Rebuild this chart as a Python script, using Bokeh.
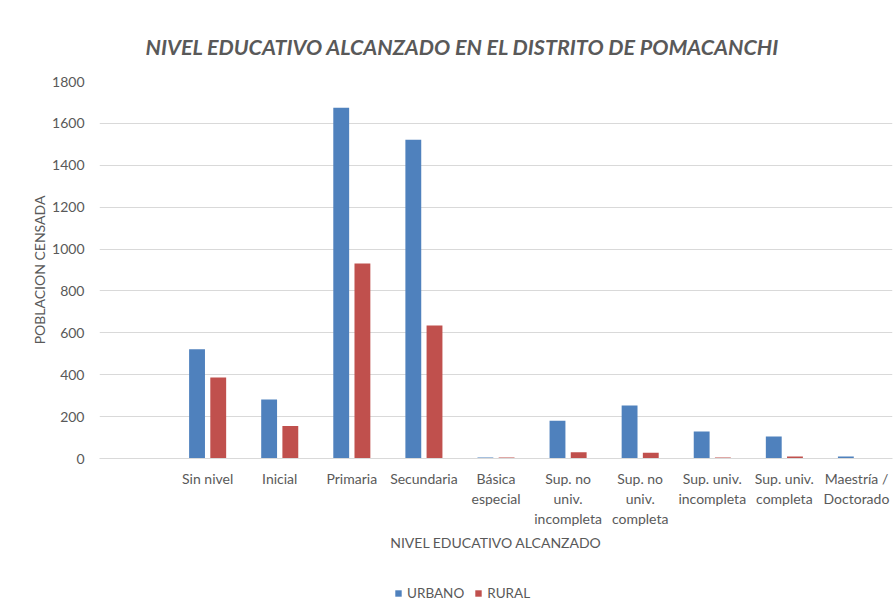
from bokeh.plotting import figure
from bokeh.layouts import column
from bokeh.models import FactorRange, Range1d, ColumnDataSource, Legend, LegendItem, SingleIntervalTicker
from bokeh.transform import dodge
from bokeh.embed import file_html
from bokeh.resources import INLINE

categories = ["Sin nivel", "Inicial", "Primaria", "Secundaria", "Básica\nespecial",
              "Sup. no\nuniv.\nincompleta", "Sup. no\nuniv.\ncompleta",
              "Sup. univ.\nincompleta", "Sup. univ.\ncompleta", "Maestría /\nDoctorado"]
urbano = [522, 282, 1675, 1522, 5, 180, 253, 129, 105, 10]
rural = [387, 155, 931, 635, 5, 30, 27, 5, 10, 0]
series_names = ["URBANO", "RURAL"]
colors = ["#4F81BD", "#C0504D"]

FONT = "Lato"
TXT = "#595959"

src = ColumnDataSource(dict(cat=categories, urbano=urbano, rural=rural))

p = figure(width=893, height=580, output_backend="svg", toolbar_location=None,
           x_range=FactorRange(*([" "] + categories), range_padding=0),
           y_range=Range1d(0, 1800),
           min_border_left=99, min_border_right=1, min_border_top=81, min_border_bottom=122)

r1 = p.vbar(x=dodge("cat", -0.147, range=p.x_range), top="urbano", width=0.22, source=src,
            fill_color=colors[0], line_color=None)
r2 = p.vbar(x=dodge("cat", 0.147, range=p.x_range), top="rural", width=0.22, source=src,
            fill_color=colors[1], line_color=None)

p.title.text = "NIVEL EDUCATIVO ALCANZADO EN EL DISTRITO DE POMACANCHI"
p.title.align = "left"
p.title.offset = 46
p.title.text_font = FONT
p.title.text_font_style = "bold italic"
p.title.text_font_size = "21.5px"
p.title.text_color = TXT
p.title.standoff = 43

p.outline_line_color = None
p.xgrid.grid_line_color = None
p.ygrid.grid_line_color = "#D9D9D9"
p.ygrid.grid_line_width = 1
p.yaxis.ticker = SingleIntervalTicker(interval=200)

for ax in (p.xaxis[0], p.yaxis[0]):
    ax.major_tick_line_color = None
    ax.minor_tick_line_color = None
    ax.major_label_text_font = FONT
    ax.major_label_text_font_size = "14px"
    ax.major_label_text_color = TXT
    ax.axis_label_text_font = FONT
    ax.axis_label_text_font_size = "14px"
    ax.axis_label_text_font_style = "normal"
    ax.axis_label_text_color = TXT

p.yaxis.axis_line_color = None
p.yaxis.major_label_standoff = 9
p.yaxis.axis_label = "POBLACION CENSADA"
p.yaxis.axis_label_standoff = 1

p.xaxis.axis_line_color = "#D9D9D9"
p.xaxis.major_label_standoff = 5
p.xaxis.axis_label = "NIVEL EDUCATIVO ALCANZADO"
p.xaxis.axis_label_standoff = 4

# legend strip below the chart (the same series, scaled out of view, only feed the legend)
pl = figure(width=893, height=32, output_backend="svg", toolbar_location=None,
            x_axis_type=None, y_axis_type=None,
            min_border_left=0, min_border_right=0, min_border_top=0, min_border_bottom=0,
            x_range=FactorRange(*categories), y_range=Range1d(5000, 5001))
pl.outline_line_color = None
pl.grid.grid_line_color = None
l1 = pl.vbar(x="cat", top="urbano", width=0.2, source=src, fill_color=colors[0], line_color=None)
l2 = pl.vbar(x="cat", top="rural", width=0.2, source=src, fill_color=colors[1], line_color=None)
legend = Legend(items=[LegendItem(label=series_names[0], renderers=[l1], index=0),
                       LegendItem(label=series_names[1], renderers=[l2], index=0)],
                orientation="horizontal", location=(295, 11),
                label_text_font=FONT, label_text_font_size="13.5px", label_text_color=TXT,
                glyph_width=8, glyph_height=8, spacing=10, label_standoff=5,
                padding=0, margin=0,
                border_line_color=None, background_fill_alpha=0)
pl.add_layout(legend, "center")

layout = column(p, pl, spacing=0)
open("out.html", "w").write(file_html(layout, INLINE))
